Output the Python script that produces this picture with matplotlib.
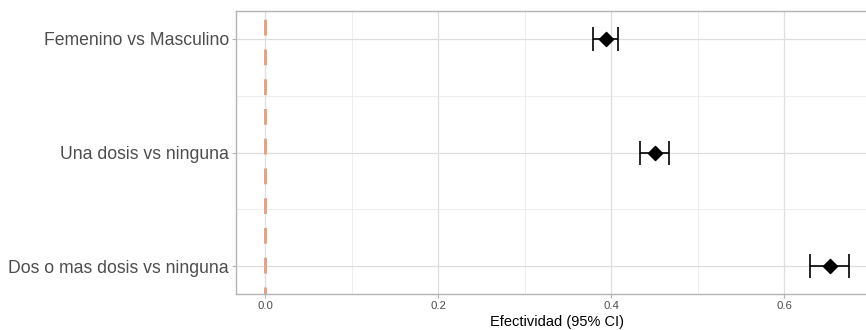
import matplotlib.pyplot as plt
import numpy as np

# effect estimates with 95% CI
labels = ["Femenino vs Masculino", "Una dosis vs ninguna", "Dos o mas dosis vs ninguna"]
estimate = [0.394, 0.451, 0.653]
ci_low = [0.379, 0.433, 0.630]
ci_high = [0.408, 0.467, 0.675]
xticks = [0.0, 0.2, 0.4, 0.6]
xminor = [0.1, 0.3, 0.5]

plt.rcParams['font.family'] = ['Liberation Sans', 'DejaVu Sans']

fig = plt.figure(figsize=(8.66, 3.30), dpi=100)
# panel runs a little past the right edge of the canvas
ax = fig.add_axes([236 / 866, 1 - 294 / 330, 642 / 866, 283 / 330])

y = np.arange(len(labels))
est = np.array(estimate)
lo = est - np.array(ci_low)
hi = np.array(ci_high) - est

# grid
for xv in xticks:
    ax.axvline(xv, color='#dedede', lw=0.9, zorder=0)
for xv in xminor:
    ax.axvline(xv, color='#ebebeb', lw=0.6, zorder=0)
for yv in y:
    ax.axhline(yv, color='#dedede', lw=0.9, zorder=0)
for yv in y[:-1] + 0.5:
    ax.axhline(yv, color='#ebebeb', lw=0.6, zorder=0)

ax.axvline(0, color='#e6a080', lw=2.1, ls=(3, (5.4, 4.8)), zorder=1)

ax.errorbar(est, y, xerr=[lo, hi], fmt='none', ecolor='black', elinewidth=1.2,
            capsize=8.5, capthick=1.2, zorder=2)
ax.scatter(est, y, marker='D', s=52, color='black', zorder=3)

ax.set_xlim(-0.03375, 0.70875)
ax.set_ylim(2.245, -0.245)
ax.set_yticks(y)
ax.set_yticklabels(labels, fontsize=12.7, color='#4d4d4d')
ax.set_xticks(xticks)
ax.set_xticklabels(['0.0', '0.2', '0.4', '0.6'], fontsize=8.2, color='#4d4d4d')
ax.tick_params(axis='both', length=3, width=0.8, color='#b3b3b3', pad=2)
ax.set_xlabel('Efectividad (95% CI)', fontsize=10.5, color='black', labelpad=3)

for s in ax.spines.values():
    s.set_color('#b3b3b3')
    s.set_linewidth(1.0)

fig.savefig('out.png', dpi=100)
